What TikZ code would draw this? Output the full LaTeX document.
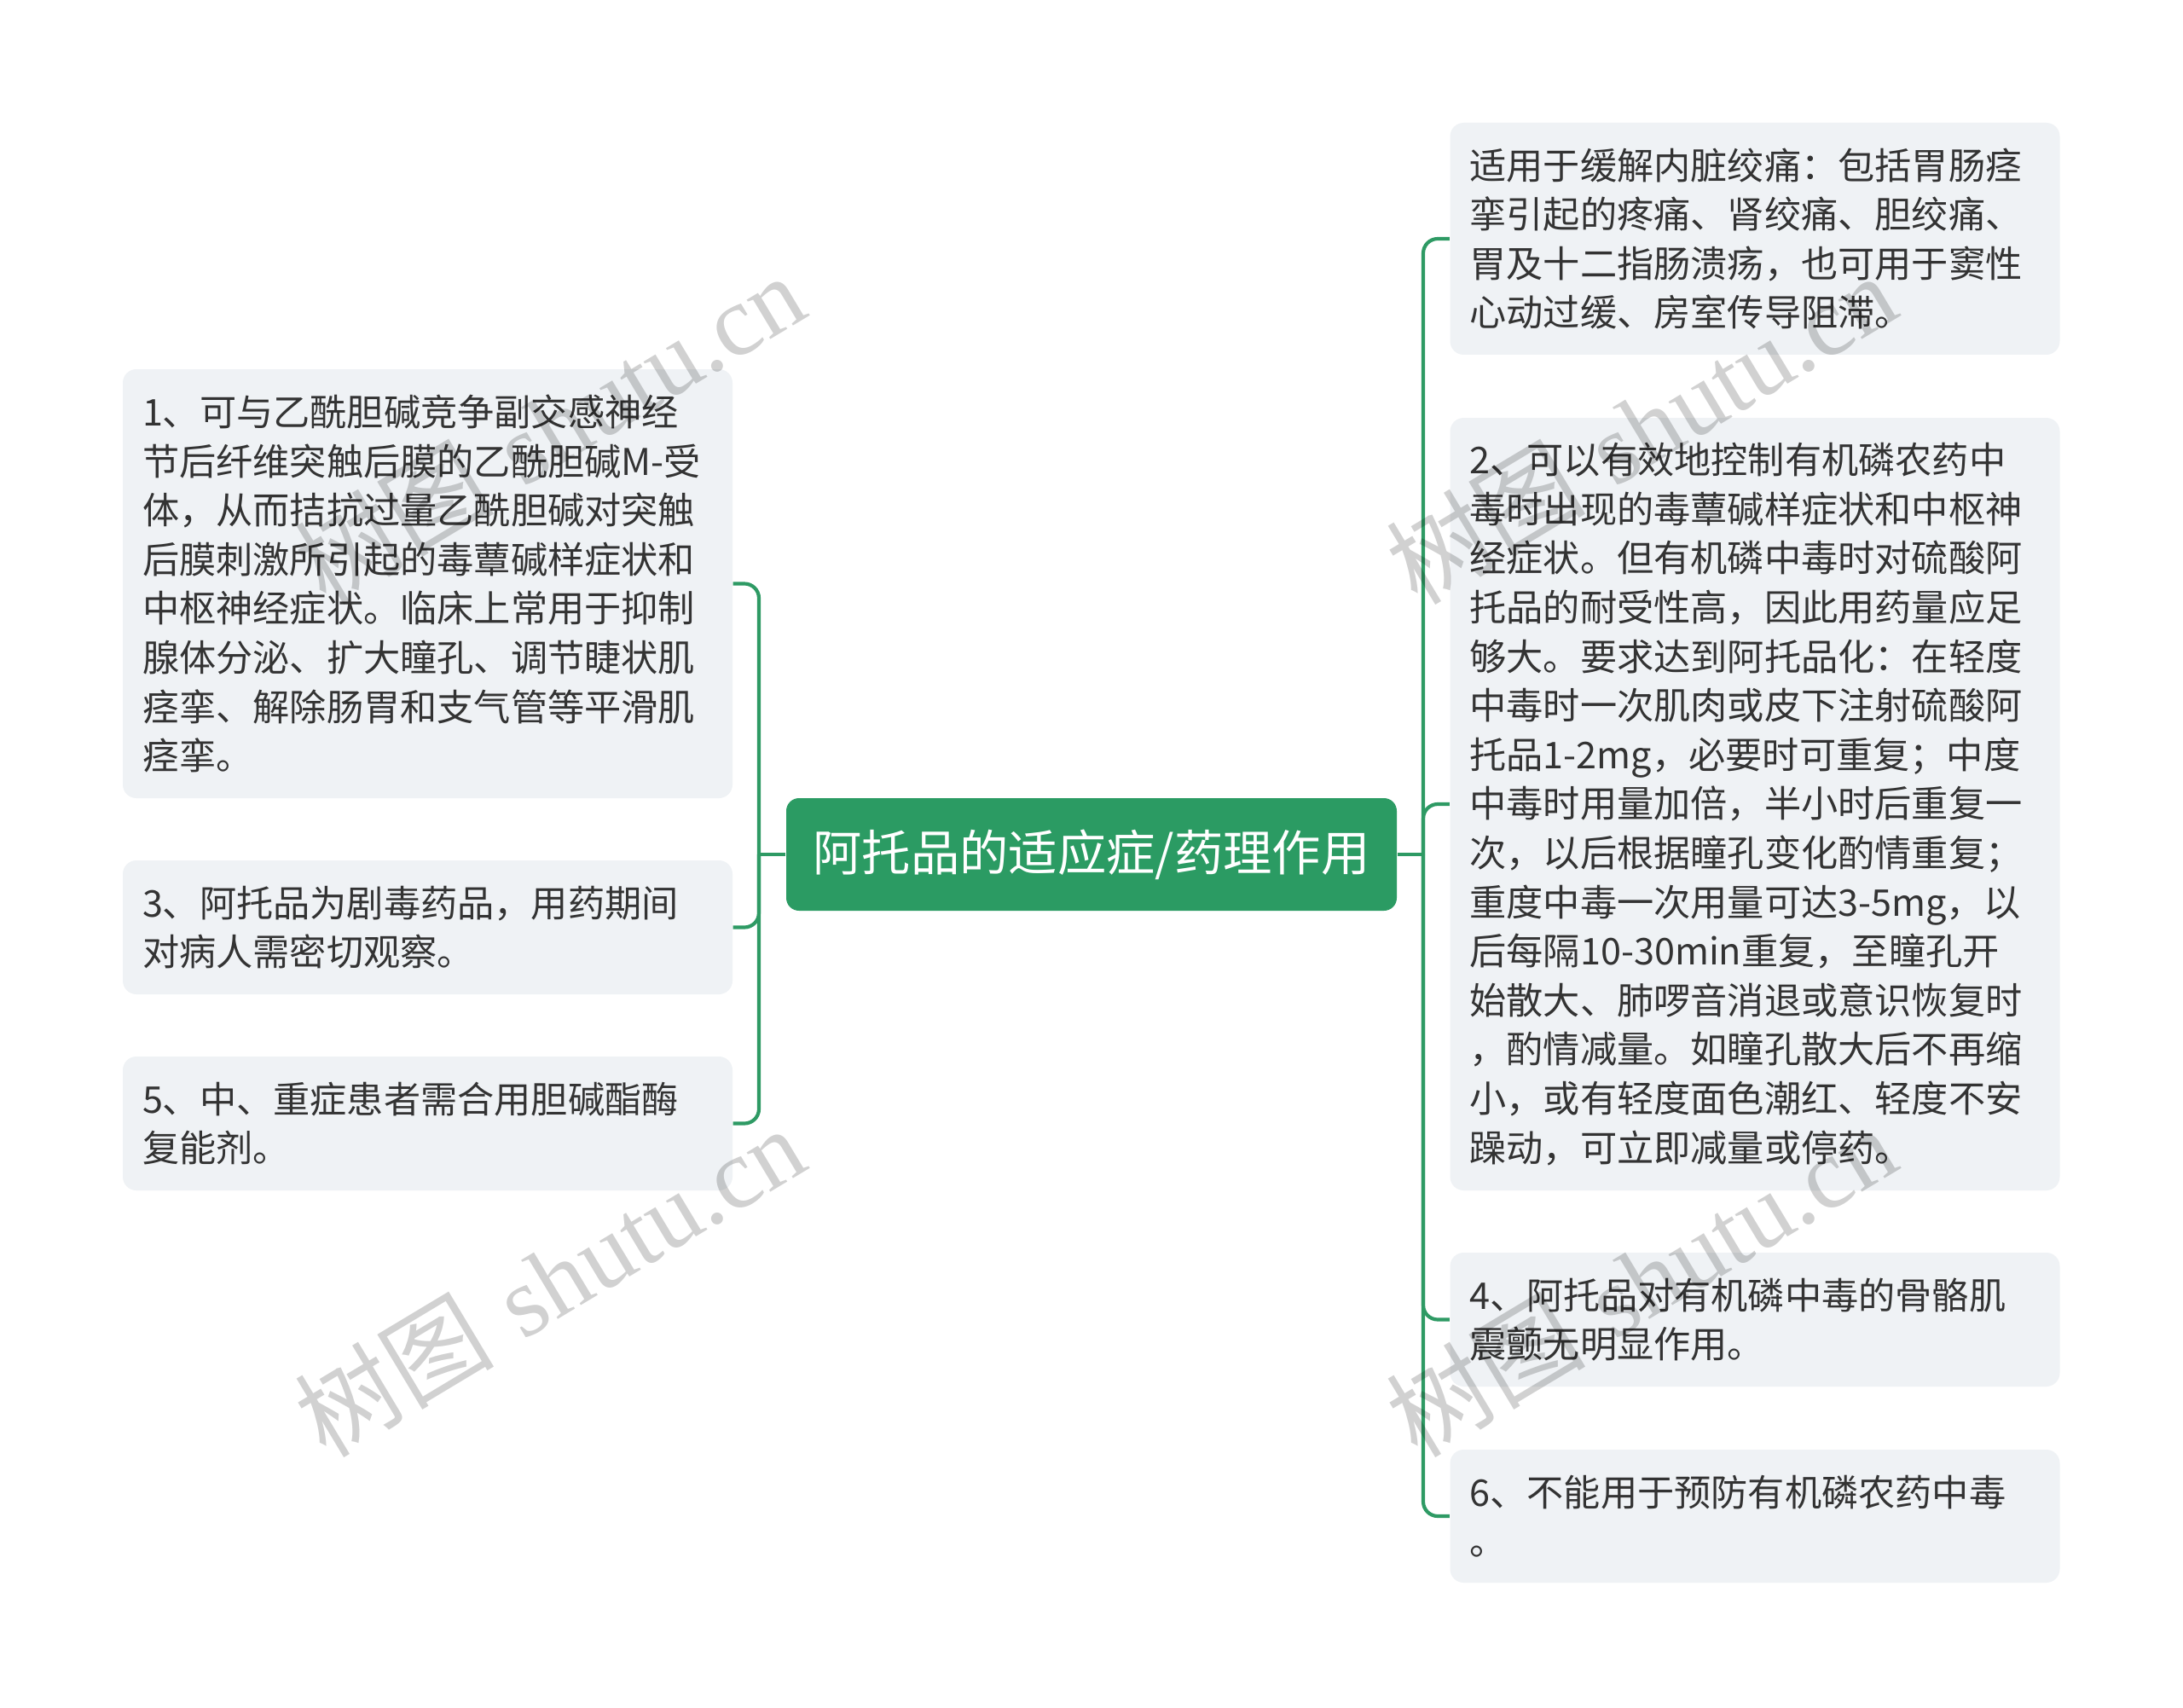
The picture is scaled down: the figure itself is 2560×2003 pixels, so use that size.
\documentclass[tikz,border=0pt]{standalone}
\usepackage{fontspec}
\newfontfamily\cjk{Noto Sans CJK SC}
\newfontfamily\wmserif{Liberation Serif}
\definecolor{boxfill}{RGB}{239,242,245}
\definecolor{mainfill}{RGB}{43,155,99}
\definecolor{linecol}{RGB}{46,154,100}
\definecolor{textcol}{RGB}{51,51,51}
\tikzset{
  card/.style={fill=boxfill, rounded corners=4.8pt, minimum width=214.5pt,
    text width=200.7pt, inner xsep=6.9pt, inner ysep=0pt, align=left,
    font=\cjk\fontsize{12.96pt}{17.28pt}\selectfont, text=textcol},
  mainbox/.style={fill=mainfill, rounded corners=4.5pt, minimum width=214.8pt,
    minimum height=39.6pt, inner sep=0pt, text=white,
    font=\cjk\fontsize{17.2pt}{20pt}\selectfont},
  conn/.style={draw=linecol, line width=1.25pt, rounded corners=5.1pt},
  wm/.style={text=black, opacity=0.18, inner sep=0pt, rotate=31,
    font=\fontsize{35.2pt}{40pt}\selectfont}
}
\begin{document}
\begin{tikzpicture}[x=0.3pt,y=-0.3pt]
\path[use as bounding box, fill=white] (0,0) rectangle (2560,2003);

\node[mainbox] (c) at (1280,1002) {阿托品的适应症/药理作用};

% left cards
\node[card, minimum height=150.9pt] (b1) at (501.5,684.5) {1、可与乙酰胆碱竞争副交感神经\\节后纤维突触后膜的乙酰胆碱M-受\\体，从而拮抗过量乙酰胆碱对突触\\后膜刺激所引起的毒蕈碱样症状和\\中枢神经症状。临床上常用于抑制\\腺体分泌、扩大瞳孔、调节睫状肌\\痉挛、解除肠胃和支气管等平滑肌\\痉挛。};
\node[card, minimum height=47.1pt] (b3) at (501.5,1087.5) {3、阿托品为剧毒药品，用药期间\\对病人需密切观察。};
\node[card, minimum height=47.1pt] (b5) at (501.5,1317.5) {5、中、重症患者需合用胆碱酯酶\\复能剂。};

% right cards
\node[card, minimum height=81.6pt] (ba) at (2058,280) {适用于缓解内脏绞痛：包括胃肠痉\\挛引起的疼痛、肾绞痛、胆绞痛、\\胃及十二指肠溃疡，也可用于窦性\\心动过缓、房室传导阻滞。};
\node[card, minimum height=271.8pt] (b2) at (2058,943) {2、可以有效地控制有机磷农药中\\毒时出现的毒蕈碱样症状和中枢神\\经症状。但有机磷中毒时对硫酸阿\\托品的耐受性高，因此用药量应足\\够大。要求达到阿托品化：在轻度\\中毒时一次肌肉或皮下注射硫酸阿\\托品1-2mg，必要时可重复；中度\\中毒时用量加倍，半小时后重复一\\次，以后根据瞳孔变化酌情重复；\\重度中毒一次用量可达3-5mg，以\\后每隔10-30min重复，至瞳孔开\\始散大、肺啰音消退或意识恢复时\\，酌情减量。如瞳孔散大后不再缩\\小，或有轻度面色潮红、轻度不安\\躁动，可立即减量或停药。};
\node[card, minimum height=47.1pt] (b4) at (2058,1547.5) {4、阿托品对有机磷中毒的骨骼肌\\震颤无明显作用。};
\node[card, minimum height=46.8pt] (b6) at (2058,1778) {6、不能用于预防有机磷农药中毒\\。};

% connectors
\coordinate (jl) at (890,1002);
\coordinate (jr) at (1669,1002);
\draw[conn] (c.west) -- (jl);
\draw[conn] (jl) |- (b1.east);
\draw[conn] (jl) |- (b3.east);
\draw[conn] (jl) |- (b5.east);
\draw[conn] (c.east) -- (jr);
\draw[conn] (jr) |- (ba.west);
\draw[conn] (jr) |- (b2.west);
\draw[conn] (jr) |- (b4.west);
\draw[conn] (jr) |- (b6.west);

% watermarks
\node[wm] (w1) at (644,502) {{\cjk 树图} {\wmserif shutu.cn}};
\node[wm] (w2) at (644,1502) {{\cjk 树图} {\wmserif shutu.cn}};
\node[wm] (w3) at (1924,502) {{\cjk 树图} {\wmserif shutu.cn}};
\node[wm] (w4) at (1924,1502) {{\cjk 树图} {\wmserif shutu.cn}};
\end{tikzpicture}
\end{document}
